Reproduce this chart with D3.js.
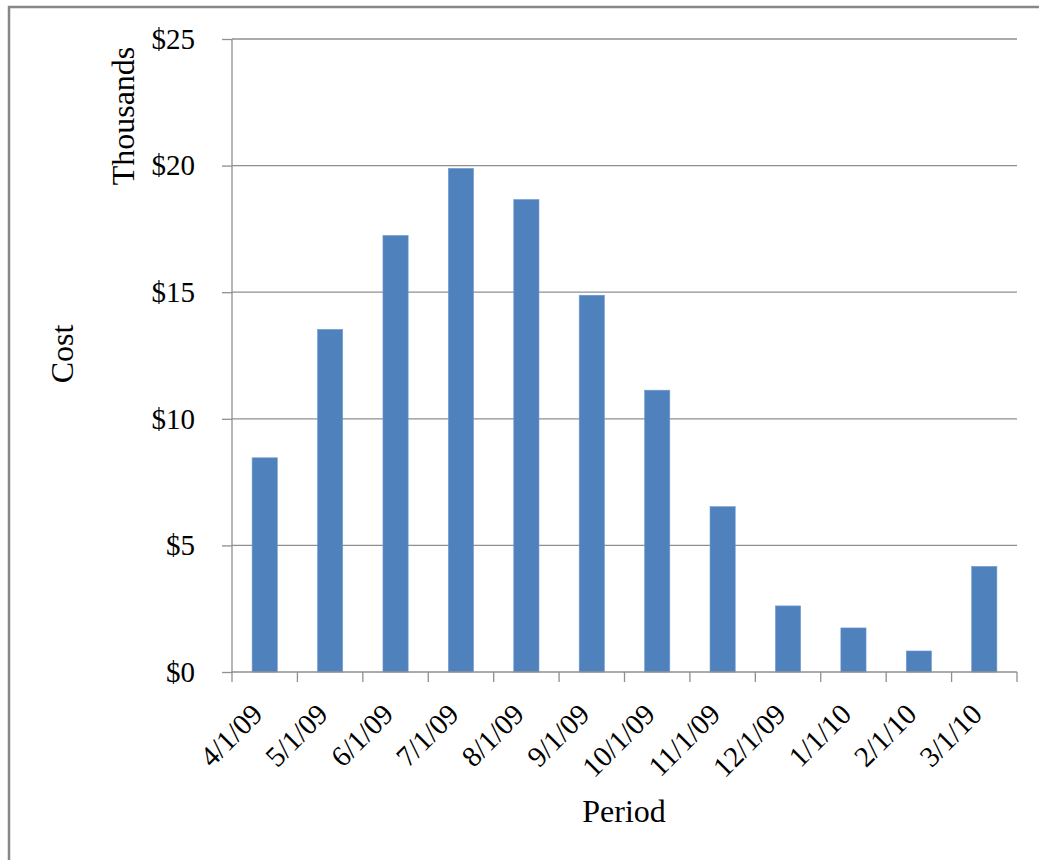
<!DOCTYPE html>
<html>
<head>
<meta charset="utf-8">
<script src="https://cdn.jsdelivr.net/npm/d3@7"></script>
<style>
  html, body { margin: 0; padding: 0; background: #ffffff; }
  svg { display: block; }
  text { font-family: "Liberation Serif", "Times New Roman", serif; fill: #000; }
</style>
</head>
<body>
<svg id="chart" width="1039" height="860"></svg>
<script>
// Monthly cost (in thousands of dollars)
const periods = ["4/1/09", "5/1/09", "6/1/09", "7/1/09", "8/1/09", "9/1/09",
                 "10/1/09", "11/1/09", "12/1/09", "1/1/10", "2/1/10", "3/1/10"];
const costThousands = [8.46, 13.53, 17.24, 19.89, 18.66, 14.88,
                       11.13, 6.53, 2.61, 1.74, 0.83, 4.17];
const yTicks = [0, 5, 10, 15, 20, 25];

const svg = d3.select("#chart");
const plotLeft = 232, plotRight = 1017, plotTop = 39, plotBottom = 672;
const gridColor = "#8f8f8f";
const tickFont = 29;
const titleFont = 32;

// Outer frame
svg.append("rect")
  .attr("x", 9).attr("y", 7)
  .attr("width", 1060).attr("height", 900)
  .attr("fill", "none")
  .attr("stroke", "#878787")
  .attr("stroke-width", 2.5);

const x = d3.scaleBand()
  .domain(periods)
  .range([plotLeft, plotRight])
  .paddingInner(0.615)
  .paddingOuter(0.3075);

const y = d3.scaleLinear()
  .domain([0, 25])
  .range([plotBottom, plotTop]);

// Horizontal gridlines
svg.append("g")
  .selectAll("line")
  .data(yTicks.filter(d => d > 0))
  .join("line")
  .attr("x1", plotLeft).attr("x2", plotRight)
  .attr("y1", d => y(d)).attr("y2", d => y(d))
  .attr("stroke", gridColor)
  .attr("stroke-width", 1.3);

// Bars
svg.append("g")
  .selectAll("rect")
  .data(periods)
  .join("rect")
  .attr("x", d => x(d))
  .attr("y", (d, i) => y(costThousands[i]))
  .attr("width", x.bandwidth())
  .attr("height", (d, i) => y(0) - y(costThousands[i]))
  .attr("fill", "#4f81bd")
  .attr("stroke", "#6f9ad0")
  .attr("stroke-width", 0.6);

// Y axis
const yAxis = svg.append("g")
  .attr("transform", `translate(${plotLeft},0)`)
  .call(d3.axisLeft(y).tickValues(yTicks).tickSize(10).tickPadding(27)
        .tickFormat(d => "$" + d));
yAxis.select(".domain").attr("stroke", gridColor).attr("stroke-width", 1.3)
  .attr("d", `M0,${plotTop}V${plotBottom}`);
yAxis.selectAll(".tick line").attr("stroke", gridColor).attr("stroke-width", 1.3);
yAxis.selectAll(".tick text")
  .attr("font-size", tickFont)
  .attr("font-family", "Liberation Serif, Times New Roman, serif")
  .attr("fill", "#000");

// X axis with category-boundary ticks
const step = x.step();
const boundaries = d3.range(periods.length + 1).map(i => plotLeft + i * step);
const xAxis = svg.append("g");
xAxis.append("line")
  .attr("x1", plotLeft).attr("x2", plotRight)
  .attr("y1", plotBottom).attr("y2", plotBottom)
  .attr("stroke", gridColor).attr("stroke-width", 1.3);
xAxis.selectAll("line.tick")
  .data(boundaries)
  .join("line")
  .attr("class", "tick")
  .attr("x1", d => d).attr("x2", d => d)
  .attr("y1", plotBottom).attr("y2", plotBottom + 10)
  .attr("stroke", gridColor).attr("stroke-width", 1.3);
xAxis.selectAll("text")
  .data(periods)
  .join("text")
  .attr("transform", d => `translate(${x(d) + x.bandwidth() / 2 - 0.5},${plotBottom + 44}) rotate(-45)`)
  .attr("text-anchor", "end")
  .attr("font-size", tickFont)
  .text(d => d);

// Axis titles
svg.append("text")
  .attr("transform", "translate(73,354) rotate(-90)")
  .attr("text-anchor", "middle")
  .attr("font-size", titleFont)
  .text("Cost");

svg.append("text")
  .attr("transform", "translate(134,116) rotate(-90)")
  .attr("text-anchor", "middle")
  .attr("font-size", titleFont)
  .text("Thousands");

svg.append("text")
  .attr("x", 624).attr("y", 822)
  .attr("text-anchor", "middle")
  .attr("font-size", titleFont)
  .text("Period");
</script>
</body>
</html>
